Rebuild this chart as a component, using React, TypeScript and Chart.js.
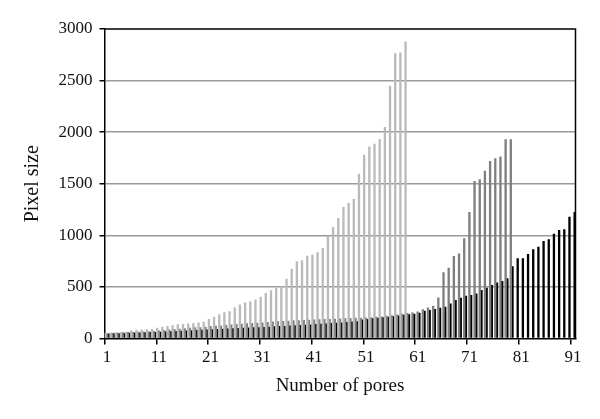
import React, { useEffect, useRef } from "react";
import { Chart, registerables } from "chart.js";

Chart.register(...registerables);

// Pore index 1..91
const categories: string[] = Array.from({ length: 91 }, (_, i) => String(i + 1));

// Series 1 (light gray) – 59 pores, sorted
const seriesLight: number[] = [
  55, 56, 58, 60, 65, 80, 84, 88, 90, 92,
  103, 113, 120, 129, 137, 140, 145, 147, 155, 162,
  188, 210, 236, 255, 265, 301, 330, 350, 361, 378,
  404, 442, 468, 491, 506, 578, 675, 748, 758, 803,
  813, 835, 878, 997, 1081, 1168, 1275, 1313, 1352, 1597,
  1781, 1861, 1888, 1933, 2049, 2449, 2765, 2772, 2878,
];

// Series 2 (mid gray) – 79 pores, sorted
const seriesMid: number[] = [
  52, 55, 57, 60, 62, 63, 66, 68, 70, 72,
  78, 82, 88, 92, 95, 100, 104, 108, 110, 115,
  120, 124, 127, 132, 136, 140, 143, 148, 150, 152,
  156, 160, 164, 168, 170, 173, 176, 178, 180, 182,
  184, 186, 188, 190, 192, 194, 196, 198, 200, 202,
  204, 206, 210, 214, 220, 226, 232, 240, 248, 252,
  262, 284, 301, 317, 398, 641, 686, 799, 825, 971,
  1226, 1527, 1544, 1627, 1721, 1747, 1763, 1932, 1932,
];

// Series 3 (black) – 91 pores, sorted
const seriesDark: number[] = [
  48, 50, 52, 54, 55, 57, 58, 60, 62, 64,
  66, 68, 70, 72, 75, 78, 80, 82, 85, 88,
  90, 92, 95, 98, 100, 102, 104, 106, 108, 110,
  112, 115, 118, 120, 122, 125, 128, 130, 133, 136,
  140, 143, 146, 150, 153, 156, 160, 164, 168, 185,
  190, 196, 200, 205, 210, 216, 222, 230, 236, 240,
  250, 269, 277, 285, 298, 307, 340, 372, 395, 414,
  421, 437, 469, 492, 518, 544, 557, 583, 700, 777,
  777, 818, 864, 890, 945, 961, 1016, 1051, 1058, 1181,
  1226,
];

const yTicks: number[] = [0, 500, 1000, 1500, 2000, 2500, 3000];

const FONT_FAMILY = "'Liberation Serif', 'DejaVu Serif', serif";

const framePlugin = {
  id: "frame",
  afterDraw(chart: any) {
    const { ctx, chartArea } = chart;
    ctx.save();
    ctx.strokeStyle = "#000";
    ctx.lineWidth = 1.5;
    ctx.beginPath();
    ctx.moveTo(chartArea.left, chartArea.top);
    ctx.lineTo(chartArea.right, chartArea.top);
    ctx.lineTo(chartArea.right, chartArea.bottom);
    ctx.stroke();
    ctx.restore();
  },
};

export default function App() {
  const ref = useRef<HTMLCanvasElement | null>(null);

  useEffect(() => {
    if (!ref.current) return;
    const chart = new Chart(ref.current, {
      type: "bar",
      data: {
        labels: categories,
        datasets: [
          { data: seriesLight, backgroundColor: "#bababa", borderWidth: 0 },
          { data: seriesMid, backgroundColor: "#7f7f7f", borderWidth: 0 },
          { data: seriesDark, backgroundColor: "#000000", borderWidth: 0 },
        ],
      },
      options: {
        animation: false,
        responsive: false,
        devicePixelRatio: 1,
        datasets: { bar: { categoryPercentage: 1.0, barPercentage: 1.35 } },
        layout: { padding: { left: 0, right: 24.5, top: 29, bottom: 0 } },
        plugins: { legend: { display: false }, tooltip: { enabled: false } },
        scales: {
          x: {
            type: "category",
            offset: true,
            grid: {
              offset: true,
              drawOnChartArea: false,
              drawTicks: true,
              tickLength: 6,
              lineWidth: 1.5,
              tickColor: (c: any) => (c.index % 10 === 0 ? "#000" : "rgba(0,0,0,0)"),
            },
            border: { color: "#000", width: 1.5 },
            ticks: {
              autoSkip: false,
              maxRotation: 0,
              minRotation: 0,
              padding: 3,
              color: "#111",
              font: { family: FONT_FAMILY, size: 17 },
              callback: (_v: any, i: number) => (i % 10 === 0 ? categories[i] : ""),
            },
            title: {
              display: true,
              text: "Number of pores",
              color: "#111",
              font: { family: FONT_FAMILY, size: 19 },
              padding: { top: 0, bottom: 22 },
            },
            afterFit: (s: any) => {
              s.height = 419 - 338.5;
            },
          },
          y: {
            min: 0,
            max: 3000,
            afterBuildTicks: (s: any) => {
              s.ticks = yTicks.map((v) => ({ value: v }));
            },
            grid: {
              color: (c: any) => (c.tick && (c.tick.value === 0 || c.tick.value === 3000) ? "rgba(0,0,0,0)" : "#9a9a9a"),
              tickColor: "#000",
              tickLength: 5,
              lineWidth: 1.5,
            },
            border: { color: "#000", width: 1.5 },
            ticks: {
              padding: 7,
              color: "#111",
              font: { family: FONT_FAMILY, size: 17 },
              callback: (v: any) => String(v),
            },
            title: {
              display: true,
              text: "Pixel size",
              color: "#111",
              font: { family: FONT_FAMILY, size: 20 },
              padding: { top: 21, bottom: 0 },
            },
            afterFit: (s: any) => {
              s.width = 104.5;
            },
          },
        },
      },
      plugins: [framePlugin],
    });
    return () => chart.destroy();
  }, []);

  return (
    <div style={{ position: "fixed", left: 0, top: 0, width: 600, height: 419, background: "#fff" }}>
      <canvas ref={ref} width={600} height={419} style={{ display: "block" }} />
    </div>
  );
}
